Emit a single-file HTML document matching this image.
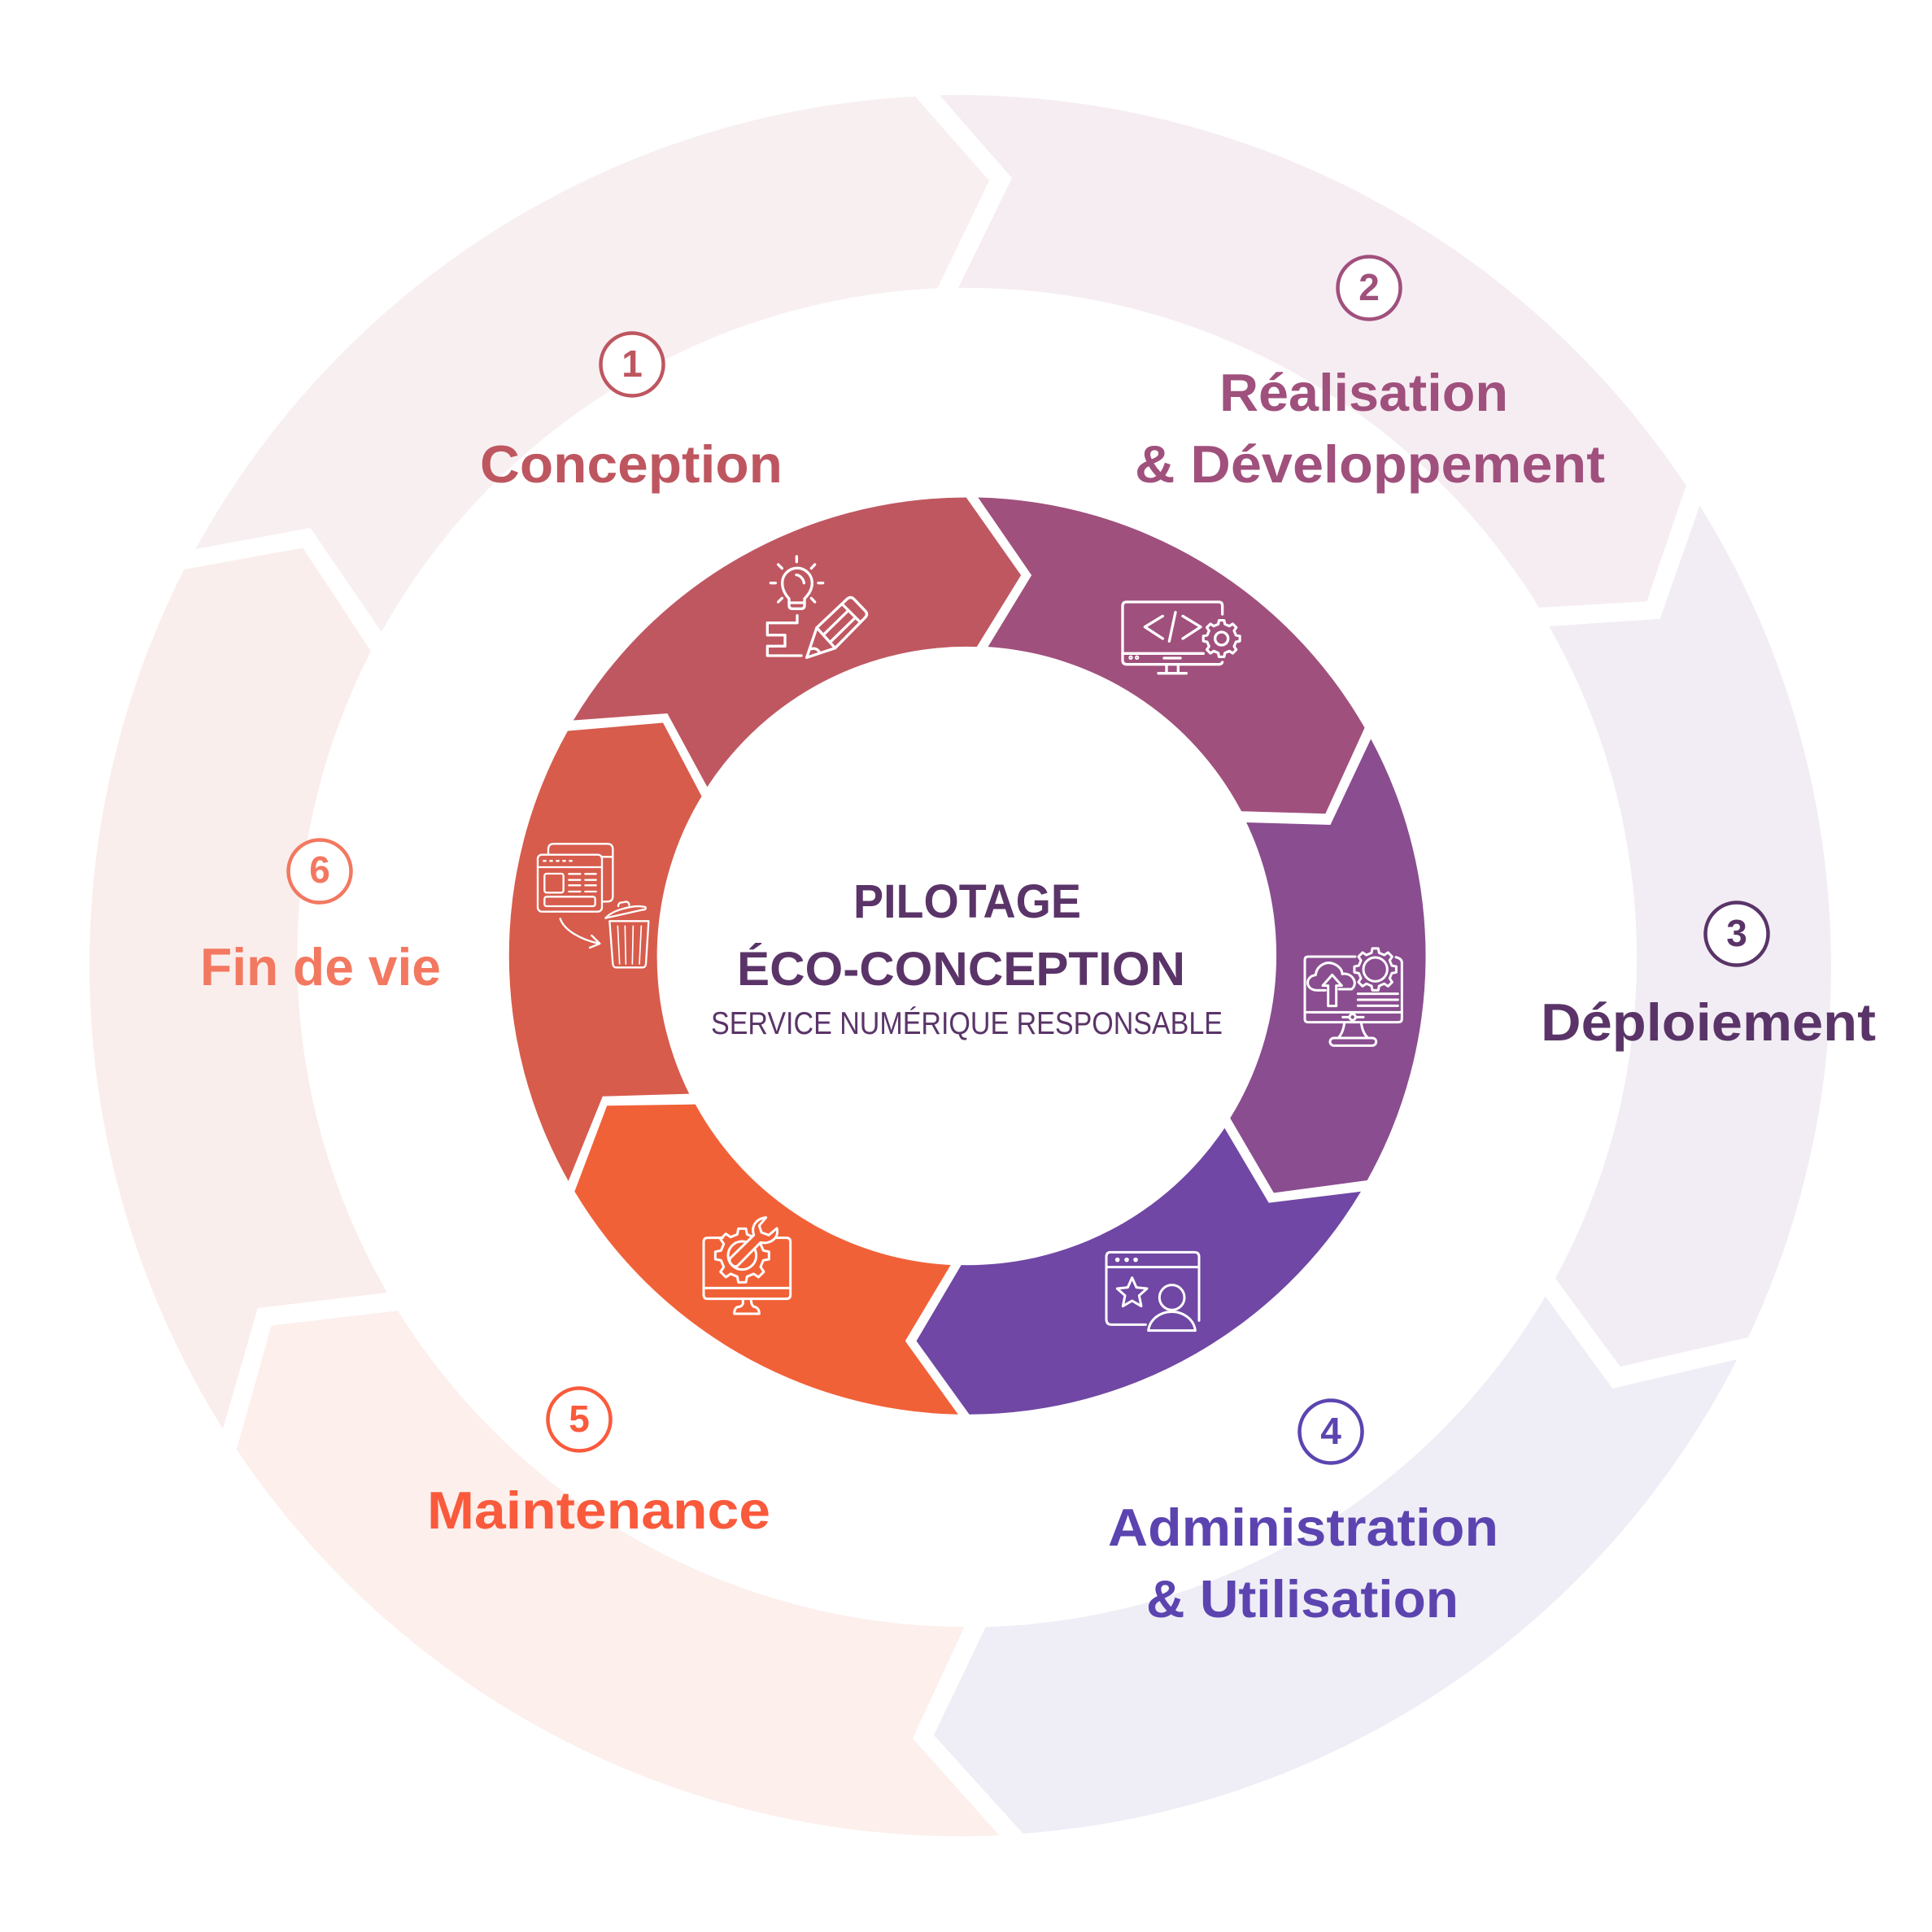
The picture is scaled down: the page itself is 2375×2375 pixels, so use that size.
<!DOCTYPE html>
<html lang="fr">
<head>
<meta charset="utf-8">
<title>Pilotage éco-conception</title>
<style>
html,body{margin:0;padding:0;background:#fff;width:2375px;height:2375px;overflow:hidden}
svg{display:block}
text{font-family:"Liberation Sans",sans-serif;font-weight:700}
.ic{fill:none;stroke:#fff;stroke-linecap:round;stroke-linejoin:round}
.lbl{font-size:65px}
.num{font-size:46px;text-anchor:middle}
.c{fill:#fff;stroke-width:4.5}
</style>
</head>
<body>
<svg xmlns="http://www.w3.org/2000/svg" width="2375" height="2375" viewBox="0 0 2375 2375">
<defs>
<path id="gear" d="M7.8 -1.8L9.9 -1.39L9.9 1.39L7.8 1.8L6.78 4.24L7.99 6.02L6.02 7.99L4.24 6.78L1.8 7.8L1.39 9.9L-1.39 9.9L-1.8 7.8L-4.24 6.78L-6.02 7.99L-7.99 6.02L-6.78 4.24L-7.8 1.8L-9.9 1.39L-9.9 -1.39L-7.8 -1.8L-6.78 -4.24L-7.99 -6.02L-6.02 -7.99L-4.24 -6.78L-1.8 -7.8L-1.39 -9.9L1.39 -9.9L1.8 -7.8L4.24 -6.78L6.02 -7.99L7.99 -6.02L6.78 -4.24Z"/>
</defs>
<rect width="2375" height="2375" fill="#fff"/>

<!-- outer ring -->
<path fill="#F8EFF1" d="M240.4 675A1074 1074 0 0 1 1125 118.6L1216 222L1152.5 354.3A825 825 0 0 0 469 776.8L381.4 649Z"/>
<path fill="#F6EDF3" d="M1155 117A1074 1074 0 0 1 2072.7 597L2024.5 739.3L1892 747A825 825 0 0 0 1178 354L1243.9 218.9Z"/>
<path fill="#F2EDF4" d="M2089.5 621.4A1074 1074 0 0 1 2149.2 1644L1991.6 1680L1912 1571.4A825 825 0 0 0 1904.3 769.9L2040.6 760.7Z"/>
<path fill="#EFEDF6" d="M2135.5 1671A1074 1074 0 0 1 1257.6 2254L1148 2133L1211.7 2000A825 825 0 0 0 1899.7 1593.6L1982.4 1706.9Z"/>
<path fill="#FCEFEC" d="M1228.6 2256.4A1074 1074 0 0 1 290.8 1781.9L333.7 1629.6L489 1611.2A825 825 0 0 0 1185.4 2000L1121.9 2137Z"/>
<path fill="#FAEEEC" d="M274 1756.6A1074 1074 0 0 1 226.3 700L372.3 673.5L456 800.5A825 825 0 0 0 476 1589L316.8 1608Z"/>

<!-- inner ring -->
<g transform="translate(600 600) scale(.76531)">
<path fill="#BF5761" d="M137 373A736.5 736.5 0 0 1 768 15L856 140L785 255A497 497 0 0 0 352 480L288 362Z"/>
<path fill="#A0507C" d="M787 15A736.5 736.5 0 0 1 1408 385L1345 523L1210 519A497 497 0 0 0 803 255L873 140Z"/>
<path fill="#8A4D90" d="M1418 403A736.5 736.5 0 0 1 1412 1112L1262 1132L1192 1012A497 497 0 0 0 1218 537L1353 541Z"/>
<path fill="#7047A4" d="M1402 1130A736.5 736.5 0 0 1 773 1488L688 1370L760 1248A497 497 0 0 0 1183 1028L1254 1148Z"/>
<path fill="#F16138" d="M755 1488A736.5 736.5 0 0 1 139 1130L191 992L333 990A497 497 0 0 0 743 1248L670 1370Z"/>
<path fill="#D75C4C" d="M129 1113A736.5 736.5 0 0 1 128 390L281 377L343 495A497 497 0 0 0 323 973L184 977Z"/>
</g>

<!-- icon 1 -->
<g class="ic" transform="translate(900 660) scale(.33333)" stroke-width="10">
<path d="M210 228C195 212 185 195 185 170A55 55 0 1 1 295 170C295 195 282 212 267 228V252Q267 265 255 265H222Q210 265 210 252Z"/>
<path d="M210 243H267M237 140A35 35 0 0 1 265 170"/>
<path d="M238 72V92M170 102L184 116M305 102L292 116M142 170H160M318 170H335M170 240L184 226M305 240L292 226"/>
<path d="M240 290V317H130V362H195V403H130V438H255"/>
<path d="M275 445L312 335L425 228Q438 218 450 230L490 272Q503 285 490 298L380 410Z"/>
<path d="M312 335L380 410M410 252L472 314M340 358L428 272M366 384L452 300M285 415Q310 405 322 425"/>
</g>

<!-- icon 2 -->
<g class="ic" transform="translate(1360 720) scale(.33333)" stroke-width="10">
<path d="M428 105V75Q428 60 415 60H75Q60 60 60 75V275Q60 290 75 290H415Q425 290 428 282"/>
<path d="M60 250H358"/>
<path d="M208 112L142 152L208 195M255 98L232 205M282 112L348 152L282 195"/>
<path d="M213 267H273M222 292V322M265 292V322M192 323H295"/>
<circle cx="90" cy="265" r="3"/><circle cx="113" cy="265" r="3"/>
<use href="#gear" transform="translate(425 195) scale(6.8)" stroke-width="1.4"/>
<circle cx="425" cy="195" r="24"/>
</g>

<!-- icon 3 -->
<g class="ic" transform="translate(1590 1150) scale(.33333)" stroke-width="9">
<path d="M228 78H55Q42 78 42 90V308Q42 320 55 320H385Q400 320 400 308V100Q400 85 378 80"/>
<path d="M42 283H400"/>
<circle cx="218" cy="301" r="11"/>
<path d="M182 301H205M232 301H258M188 322Q183 360 165 378M250 322Q255 360 275 378"/>
<rect x="135" y="378" width="170" height="28" rx="14"/>
<use href="#gear" transform="translate(302 125) scale(7.8)" stroke-width="1.15"/>
<circle cx="302" cy="125" r="44"/>
<path d="M118 202H88C42 202 42 150 82 146C85 112 120 92 150 105C172 115 180 130 180 142C215 135 242 175 215 198H168"/>
<path d="M128 260V185H108L143 145L178 185H158V260Z"/>
<path d="M238 215H385M238 237H385M238 259H385"/>
</g>

<!-- icon 4 -->
<g class="ic" transform="translate(1340 1520) scale(.33333)" stroke-width="9">
<path d="M402 310V75Q402 58 385 58H75Q60 58 60 75V305Q60 325 78 325H205"/>
<path d="M60 113H402"/>
<circle cx="101" cy="86" r="4"/><circle cx="135" cy="86" r="4"/><circle cx="168" cy="86" r="4"/>
<path d="M155 152L171 188L210 192L181 218L189 257L155 237L121 257L129 218L100 192L139 188Z"/>
<circle cx="302" cy="225" r="46"/>
<path d="M215 347A87 78 0 0 1 388 347Z"/>
</g>

<!-- icon 5 -->
<g class="ic" transform="translate(850 1480) scale(.33333)" stroke-width="9">
<path d="M115 125H60Q45 125 45 140V335Q45 350 60 350H350Q365 350 365 335V140Q365 125 350 125H310"/>
<path d="M45 310H365"/>
<path d="M190 352V368Q185 380 170 380Q158 385 158 405H250Q250 385 235 380Q220 378 220 352"/>
<use href="#gear" transform="translate(187 190) scale(10)" stroke-width=".9"/>
<circle cx="187" cy="190" r="52"/>
<path fill="#F16138" d="M143 200L230 115C220 85 235 55 275 50L250 80L258 105L285 115L315 90C325 125 290 150 255 142L170 228Q160 235 150 225Q136 212 143 200Z"/>
</g>

<!-- icon 6 -->
<g class="ic" transform="translate(650 1020) scale(.33333)" stroke-width="7">
<path d="M72 90V72Q72 52 92 52H290Q310 52 310 72V245Q310 265 290 265H272M272 100H310"/>
<rect x="33" y="92" width="237" height="210" rx="15"/>
<path d="M33 138H270"/>
<path d="M52 115H165" stroke-dasharray="13 11" stroke-linecap="butt"/>
<rect x="58" y="162" width="70" height="70" rx="8"/>
<path d="M148 163H190M208 163H248M148 185H190M208 185H248M148 205H190M208 205H248M148 228H190M208 228H248"/>
<rect x="58" y="247" width="187" height="35" rx="8"/>
<path d="M116 328C130 370 190 405 260 420M232 390L262 420L225 435"/>
<path d="M283 326C310 295 390 275 430 285Q435 295 420 295Z"/>
<path d="M330 282Q330 268 345 268L360 265Q372 270 370 278"/>
<path d="M298 337H442L432 495Q430 508 420 508H322Q312 508 310 495Z"/>
<path d="M328 355L335 495M355 355L358 495M385 355L382 495M415 355L408 495" stroke-width="5"/>
</g>

<!-- centre text -->
<g fill="#5A3468">
<text x="1049" y="1128" font-size="58" textLength="280" lengthAdjust="spacingAndGlyphs">PILOTAGE</text>
<text x="906" y="1211" font-size="58" textLength="551" lengthAdjust="spacingAndGlyphs">ÉCO-CONCEPTION</text>
<text x="874" y="1271" font-size="39" textLength="629" lengthAdjust="spacingAndGlyphs" style="font-weight:400">SERVICE NUMÉRIQUE RESPONSABLE</text>
</g>

<!-- labels -->
<g fill="#BE5660">
<circle class="c" cx="777" cy="448" r="38.5" stroke="#BE5660"/>
<text class="num" x="777" y="463">1</text>
<text class="lbl" x="590" y="593" textLength="372" lengthAdjust="spacingAndGlyphs">Conception</text>
</g>
<g fill="#A0507C">
<circle class="c" cx="1683" cy="354" r="38.5" stroke="#A0507C"/>
<text class="num" x="1688" y="369" text-anchor="middle" style="text-anchor:middle" dx="-5">2</text>
<text class="lbl" x="1499" y="505" textLength="355" lengthAdjust="spacingAndGlyphs">Réalisation</text>
<text class="lbl" x="1395" y="593" textLength="578" lengthAdjust="spacingAndGlyphs">&amp; Développement</text>
</g>
<g fill="#5A3468">
<circle class="c" cx="2135" cy="1148" r="38.5" stroke="#5A3468"/>
<text class="num" x="2135" y="1163">3</text>
<text class="lbl" x="1894" y="1279" textLength="412" lengthAdjust="spacingAndGlyphs">Déploiement</text>
</g>
<g fill="#5C44B0">
<circle class="c" cx="1636" cy="1760" r="38.5" stroke="#5C44B0"/>
<text class="num" x="1636" y="1775">4</text>
<text class="lbl" x="1362" y="1900" textLength="480" lengthAdjust="spacingAndGlyphs">Administration</text>
<text class="lbl" x="1409" y="1988" textLength="384" lengthAdjust="spacingAndGlyphs">&amp; Utilisation</text>
</g>
<g fill="#FA5A3C">
<circle class="c" cx="712" cy="1745" r="38.5" stroke="#FA5A3C"/>
<text class="num" x="712" y="1760">5</text>
<text class="lbl" x="525" y="1879" textLength="422" lengthAdjust="spacingAndGlyphs">Maintenance</text>
</g>
<g fill="#F37860">
<circle class="c" cx="393" cy="1071" r="38.5" stroke="#F37860"/>
<text class="num" x="393" y="1085">6</text>
<text class="lbl" x="246" y="1211" textLength="296" lengthAdjust="spacingAndGlyphs">Fin de vie</text>
</g>
</svg>
</body>
</html>
